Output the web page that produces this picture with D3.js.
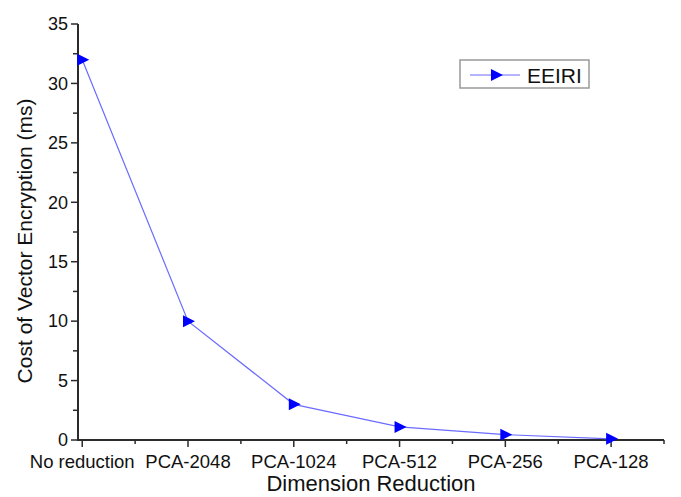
<!DOCTYPE html>
<html>
<head>
<meta charset="utf-8">
<script src="https://cdn.jsdelivr.net/npm/d3@7"></script>
<style>
  body { margin: 0; background: #fff; }
  svg { display: block; font-family: Arial, "Liberation Sans", sans-serif; }
</style>
</head>
<body>
<svg id="chart" width="681" height="497"></svg>
<script>
// chart data
const categories = ['No reduction', 'PCA-2048', 'PCA-1024', 'PCA-512', 'PCA-256', 'PCA-128'];
const eeiriValues = [32, 10, 3, 1.1, 0.45, 0.1];
const yTicks = [0, 5, 10, 15, 20, 25, 30, 35];
const seriesName = 'EEIRI';

const svg = d3.select('#chart');

// scales (index based x axis, half step minor ticks)
const x = d3.scaleLinear().domain([-0.04, 5.5]).range([78, 664]);
const y = d3.scaleLinear().domain([0, 35]).range([440, 24]);

const axisColor = '#2b2b2b';

// x axis
const xAxis = svg.append('g');
xAxis.append('line')
    .attr('x1', x.range()[0]).attr('x2', x.range()[1])
    .attr('y1', y(0)).attr('y2', y(0))
    .attr('stroke', axisColor).attr('stroke-width', 2);

xAxis.selectAll('.major')
    .data(categories)
    .enter().append('line')
    .attr('x1', (d, i) => x(i)).attr('x2', (d, i) => x(i))
    .attr('y1', y(0)).attr('y2', y(0) + 7)
    .attr('stroke', axisColor).attr('stroke-width', 1.5);

xAxis.selectAll('.minor')
    .data(categories)
    .enter().append('line')
    .attr('x1', (d, i) => x(i + 0.5)).attr('x2', (d, i) => x(i + 0.5))
    .attr('y1', y(0)).attr('y2', y(0) + 4)
    .attr('stroke', axisColor).attr('stroke-width', 1.5);

xAxis.selectAll('text')
    .data(categories)
    .enter().append('text')
    .attr('x', (d, i) => x(i))
    .attr('y', 468)
    .attr('text-anchor', 'middle')
    .attr('font-size', 18.5)
    .attr('fill', '#111')
    .text(d => d);

// y axis
const yAxis = svg.append('g');
yAxis.append('line')
    .attr('x1', 78).attr('x2', 78)
    .attr('y1', y(0) + 1).attr('y2', y(35))
    .attr('stroke', axisColor).attr('stroke-width', 2);

yAxis.selectAll('.major')
    .data(yTicks)
    .enter().append('line')
    .attr('x1', 78).attr('x2', 71)
    .attr('y1', d => y(d)).attr('y2', d => y(d))
    .attr('stroke', axisColor).attr('stroke-width', 1.5);

yAxis.selectAll('.minor')
    .data(yTicks.slice(0, -1))
    .enter().append('line')
    .attr('x1', 78).attr('x2', 73)
    .attr('y1', d => y(d + 2.5)).attr('y2', d => y(d + 2.5))
    .attr('stroke', axisColor).attr('stroke-width', 1.5);

yAxis.selectAll('text')
    .data(yTicks)
    .enter().append('text')
    .attr('x', 68)
    .attr('y', d => y(d))
    .attr('dy', '0.35em')
    .attr('text-anchor', 'end')
    .attr('font-size', 18)
    .attr('fill', '#111')
    .text(d => d);

// axis titles
svg.append('text')
    .attr('x', 371).attr('y', 491)
    .attr('text-anchor', 'middle')
    .attr('font-size', 22)
    .attr('fill', '#111')
    .text('Dimension Reduction');

svg.append('text')
    .attr('transform', 'translate(32,241) rotate(-90)')
    .attr('text-anchor', 'middle')
    .attr('font-size', 21)
    .attr('fill', '#111')
    .text('Cost of Vector Encryption (ms)');

// series line + right pointing triangle markers
const tri = 'M-5,-6L7,0L-5,6Z';

const line = d3.line()
    .x((d, i) => x(i))
    .y(d => y(d));

svg.append('path')
    .datum(eeiriValues)
    .attr('d', line)
    .attr('fill', 'none')
    .attr('stroke', '#6b6bff')
    .attr('stroke-width', 1.2);

svg.selectAll('.marker')
    .data(eeiriValues)
    .enter().append('path')
    .attr('class', 'marker')
    .attr('transform', (d, i) => `translate(${x(i)},${y(d)})`)
    .attr('d', tri)
    .attr('fill', '#0000ff');

// legend
const legend = svg.append('g');
legend.append('rect')
    .attr('x', 460).attr('y', 60)
    .attr('width', 129).attr('height', 28)
    .attr('fill', '#fff')
    .attr('stroke', '#999').attr('stroke-width', 1.5);
legend.append('line')
    .attr('x1', 470).attr('x2', 520)
    .attr('y1', 75).attr('y2', 75)
    .attr('stroke', '#6b6bff').attr('stroke-width', 1.2);
legend.append('path')
    .attr('transform', 'translate(496,75)')
    .attr('d', tri)
    .attr('fill', '#0000ff');
legend.append('text')
    .attr('x', 527).attr('y', 83)
    .attr('font-size', 21)
    .attr('fill', '#111')
    .text(seriesName);
</script>
</body>
</html>
